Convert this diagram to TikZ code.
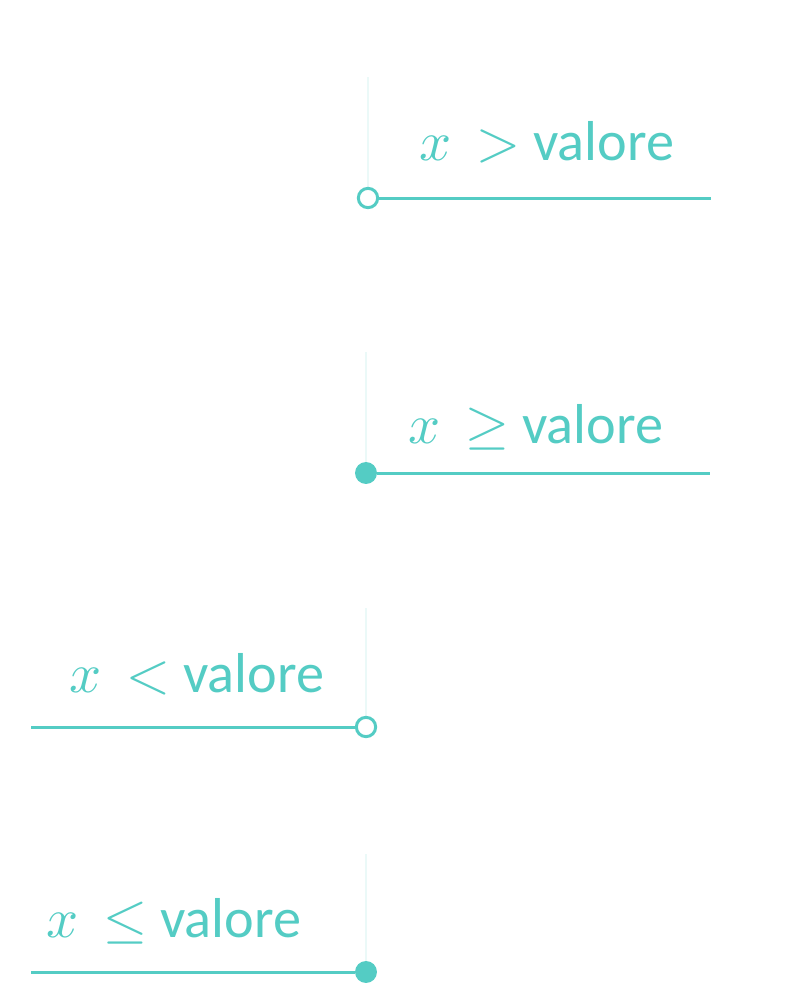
\documentclass[tikz,border=0pt]{standalone}
\usepackage{fontspec}
\usepackage{unicode-math}
\setmainfont{Carlito}
\setmathfont{Latin Modern Math}
\usepackage{tikz}
\usetikzlibrary{positioning,calc}
\definecolor{myTeal}{RGB}{84,204,196}
\tikzset{
	ray/.style={myTeal, line width=1.7pt},
	guide/.style={myTeal!12, line width=0.6pt},
	opendot/.style={circle, draw=myTeal, line width=1.7pt, fill=white, minimum size=11pt, inner sep=0pt},
	fulldot/.style={circle, fill=myTeal, minimum size=12.5pt, inner sep=0pt},
	rlabel/.style={anchor=base, text=myTeal, font=\fontsize{32}{38}\selectfont, inner sep=0pt}
}

\begin{document}
\begin{tikzpicture}[x=0.02cm, y=-0.02cm]
		\useasboundingbox (0,0) rectangle (786,988);
		% x > valore
		\coordinate (t1) at (368,77);
		\coordinate (e1) at (711,198);
		\draw[guide] (t1) -- (368,198);
		\draw[ray] (368,198) -- (e1);
		\node[opendot] (p1) at (368,198) {};
		\node[rlabel] (l1) at (547,160) {$x\, >$ valore};
		% x >= valore
		\coordinate (t2) at (366,352);
		\coordinate (e2) at (710,473);
		\draw[guide] (t2) -- (366,473);
		\node[fulldot] (p2) at (366,473) {};
		\draw[ray] (p2) -- (e2);
		\node[rlabel] (l2) at (536,443) {$x\, \geq$ valore};
		% x < valore
		\coordinate (t3) at (366,608);
		\coordinate (e3) at (31,727);
		\draw[guide] (t3) -- (366,727);
		\draw[ray] (366,727) -- (e3);
		\node[opendot] (p3) at (366,727) {};
		\node[rlabel] (l3) at (197,692) {$x\, <$ valore};
		% x <= valore
		\coordinate (t4) at (366,854);
		\coordinate (e4) at (31,972);
		\draw[guide] (t4) -- (366,972);
		\node[fulldot] (p4) at (366,972) {};
		\draw[ray] (p4) -- (e4);
		\node[rlabel] (l4) at (174,937) {$x\, \leq$ valore};
	\end{tikzpicture}
\end{document}
